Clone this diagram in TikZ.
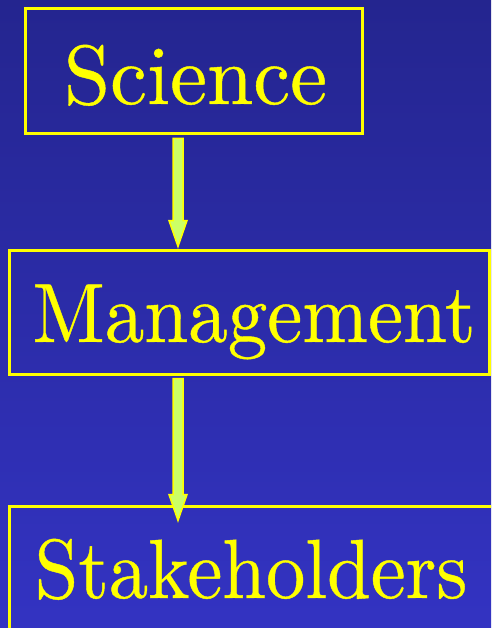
\documentclass[tikz,border=0pt]{standalone}
\usepackage{fontspec}
\newfontfamily\lmten{lmroman10-regular.otf}[FakeBold=0.5]
\usetikzlibrary{calc}
\definecolor{bgtop}{RGB}{36,37,143}
\definecolor{bgbot}{RGB}{51,51,194}
\definecolor{ylw}{RGB}{255,255,0}
\definecolor{arrfill}{RGB}{204,255,102}
\begin{document}
\begin{tikzpicture}[x=1pt,y=-1pt,
  box/.style={draw=ylw,line width=3pt,inner sep=0pt,rectangle},
  lbl/.style={text=ylw,font=\lmten\fontsize{84}{84}\selectfont,inner sep=0pt,anchor=base},
  flow/.style={draw=ylw,line width=1.5pt,fill=arrfill,line join=miter}]
\useasboundingbox (0,0) rectangle (491,628);
\clip (0,0) rectangle (491,628);
\fill[top color=bgtop,bottom color=bgbot] (0,0) rectangle (491,628);
% boxes
\node[box,minimum width=337pt,minimum height=125pt] (sci) at (193.5,71.5) {};
\node[box,minimum width=480pt,minimum height=124pt] (mgmt) at (249,312) {};
\node[box,minimum width=486pt,minimum height=124pt] (stk) at (252,568) {};
% labels
\node[lbl] (scit) at (195.5,104) {\scalebox{0.99}[1]{Science}};
\node[lbl] (mgmtt) at (254,342) {\scalebox{0.94}[1]{Management}};
\node[lbl] (stkt) at (251,598) {\scalebox{0.935}[1]{Stakeholders}};
% arrows
\coordinate (a1s) at ($(sci.south)+(-15.5,3)$);
\coordinate (a1e) at ($(mgmt.north)+(-71,-2)$);
\coordinate (a2s) at ($(mgmt.south)+(-71,3)$);
\coordinate (a2e) at ($(stk.north)+(-74,16)$);
\draw[flow] ($(a1s)+(-5,0)$) -- ($(a1e)+(-5,-26)$) -- ($(a1e)+(-9,-26)$) -- (a1e)
  -- ($(a1e)+(9,-26)$) -- ($(a1e)+(5,-26)$) -- ($(a1s)+(5,0)$) -- cycle;
\draw[flow] ($(a2s)+(-5,0)$) -- ($(a2e)+(-5,-26)$) -- ($(a2e)+(-9,-26)$) -- (a2e)
  -- ($(a2e)+(9,-26)$) -- ($(a2e)+(5,-26)$) -- ($(a2s)+(5,0)$) -- cycle;
\end{tikzpicture}
\end{document}
